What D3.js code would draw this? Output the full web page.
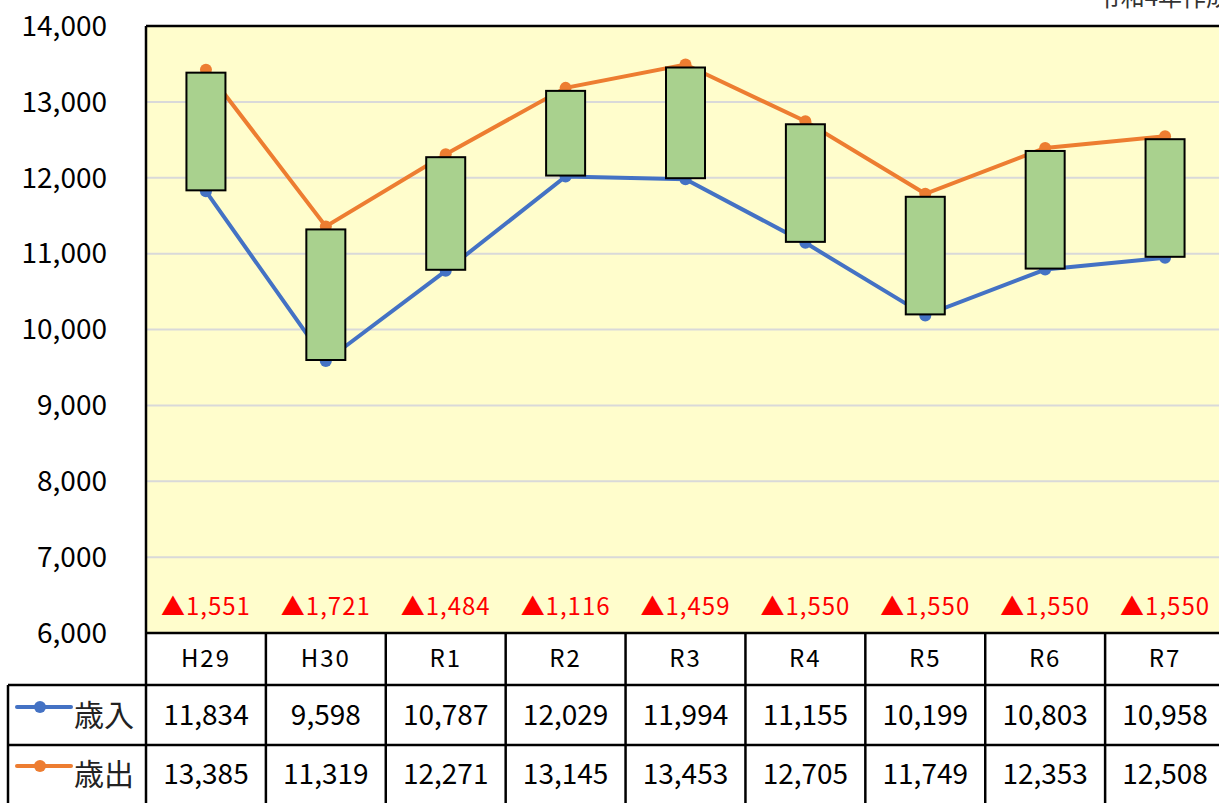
<!DOCTYPE html>
<html>
<head>
<meta charset="utf-8">
<script src="https://cdn.jsdelivr.net/npm/d3@7"></script>
<style>
  html, body { margin: 0; padding: 0; background: #fff; }
  svg { display: block; }
  text { font-family: "Noto Sans CJK JP", "Noto Sans", sans-serif; }
</style>
</head>
<body>
<svg id="chart" width="1219" height="803"></svg>
<script>
// data
const years = ['H29', 'H30', 'R1', 'R2', 'R3', 'R4', 'R5', 'R6', 'R7'];
const revenue = [11834, 9598, 10787, 12029, 11994, 11155, 10199, 10803, 10958];   // 歳入
const expense = [13385, 11319, 12271, 13145, 13453, 12705, 11749, 12353, 12508];  // 歳出
const gapLabels = ['▲1,551', '▲1,721', '▲1,484', '▲1,116', '▲1,459', '▲1,550', '▲1,550', '▲1,550', '▲1,550'];
const yTicks = [6000, 7000, 8000, 9000, 10000, 11000, 12000, 13000, 14000];
const seriesNames = ['歳入', '歳出'];

const W = 1219, H = 803;
const plot = { left: 146, top: 26, right: 1225, bottom: 633 };
const rowH = [52, 60, 58];   // header, 歳入, 歳出

const colors = { blue: '#4472C4', orange: '#ED7D31', box: '#A9D18E', bg: '#FFFDCC', grid: '#D9D9D9', red: '#FF0000' };

const svg = d3.select('#chart');

const x = d3.scaleBand().domain(years).range([plot.left, plot.right]);
const y = d3.scaleLinear().domain([6000, 14000]).range([plot.bottom, plot.top]);

// plot background
svg.append('rect')
  .attr('x', plot.left).attr('y', plot.top)
  .attr('width', plot.right - plot.left).attr('height', plot.bottom - plot.top)
  .attr('fill', colors.bg);

// gridlines
svg.append('g').selectAll('line')
  .data(yTicks.filter(d => d > 6000 && d < 14000))
  .join('line')
  .attr('x1', plot.left).attr('x2', plot.right)
  .attr('y1', d => y(d)).attr('y2', d => y(d))
  .attr('stroke', colors.grid).attr('stroke-width', 2);

// y axis labels
svg.append('g').selectAll('text')
  .data(yTicks)
  .join('text')
  .attr('x', 107).attr('y', d => y(d))
  .attr('dy', '0.35em')
  .attr('text-anchor', 'end')
  .attr('font-size', 28)
  .attr('fill', '#000')
  .text(d => d3.format(',')(d));

// lines + markers (drawn under the boxes)
const line = d3.line().x((d, i) => x(years[i]) + x.bandwidth() / 2).y(d => y(d));
const series = [
  { vals: revenue, color: colors.blue, shift: 1 },
  { vals: expense, color: colors.orange, shift: -3 }
];
series.forEach(s => {
  const g = svg.append('g').attr('transform', `translate(0,${s.shift})`);
  g.append('path').datum(s.vals)
    .attr('d', line).attr('fill', 'none')
    .attr('stroke', s.color).attr('stroke-width', 4);
  g.selectAll('circle').data(s.vals).join('circle')
    .attr('cx', (d, i) => x(years[i]) + x.bandwidth() / 2)
    .attr('cy', d => y(d))
    .attr('r', 6)
    .attr('fill', s.color);
});

// up-down boxes
const boxW = 39;
svg.append('g').selectAll('rect')
  .data(years)
  .join('rect')
  .attr('x', d => x(d) + x.bandwidth() / 2 - boxW / 2)
  .attr('width', boxW)
  .attr('y', (d, i) => y(Math.max(revenue[i], expense[i])))
  .attr('height', (d, i) => Math.abs(y(revenue[i]) - y(expense[i])))
  .attr('fill', colors.box)
  .attr('stroke', '#000').attr('stroke-width', 2);

// deficit labels
svg.append('g').selectAll('text')
  .data(gapLabels)
  .join('text')
  .attr('x', (d, i) => x(years[i]) + x.bandwidth() / 2)
  .attr('y', 615)
  .attr('text-anchor', 'middle')
  .attr('font-size', 24)
  .attr('letter-spacing', 1)
  .attr('fill', colors.red)
  .text(d => d);

// plot border (top)
svg.append('line').attr('x1', plot.left).attr('x2', plot.right).attr('y1', plot.top).attr('y2', plot.top)
  .attr('stroke', '#000').attr('stroke-width', 2.5);

// data table
const t0 = plot.bottom;
const t1 = t0 + rowH[0];
const t2 = t1 + rowH[1];
const t3 = t2 + rowH[2];
const tbl = svg.append('g');
const stroke = l => l.attr('stroke', '#000').attr('stroke-width', 2.5);

// horizontal lines
stroke(tbl.append('line').attr('x1', plot.left).attr('x2', W).attr('y1', t0).attr('y2', t0));
stroke(tbl.append('line').attr('x1', 8).attr('x2', W).attr('y1', t1).attr('y2', t1));
stroke(tbl.append('line').attr('x1', 8).attr('x2', W).attr('y1', t2).attr('y2', t2));
// vertical lines
stroke(tbl.append('line').attr('x1', 8).attr('x2', 8).attr('y1', t1).attr('y2', H));
stroke(tbl.append('line').attr('x1', plot.left).attr('x2', plot.left).attr('y1', plot.top).attr('y2', H));
tbl.selectAll('line.col').data(years.slice(1))
  .join('line').attr('class', 'col')
  .attr('x1', d => x(d)).attr('x2', d => x(d))
  .attr('y1', t0).attr('y2', H)
  .attr('stroke', '#000').attr('stroke-width', 2.5);

// category header
tbl.selectAll('text.cat').data(years)
  .join('text').attr('class', 'cat')
  .attr('x', d => x(d) + x.bandwidth() / 2)
  .attr('y', (t0 + t1) / 2).attr('dy', '0.35em')
  .attr('text-anchor', 'middle')
  .attr('font-size', 24)
  .attr('letter-spacing', 2)
  .text(d => d);

// value rows
[revenue, expense].forEach((vals, r) => {
  const top = r === 0 ? t1 : t2;
  const bot = r === 0 ? t2 : t3;
  tbl.selectAll(`text.v${r}`).data(vals)
    .join('text').attr('class', `v${r}`)
    .attr('x', (d, i) => x(years[i]) + x.bandwidth() / 2)
    .attr('y', (top + bot) / 2).attr('dy', '0.35em')
    .attr('text-anchor', 'middle')
    .attr('font-size', 28)
    .text(d => d3.format(',')(d));

  // legend key
  const cy = (top + bot) / 2 - 8;
  const c = r === 0 ? colors.blue : colors.orange;
  tbl.append('line').attr('x1', 17).attr('x2', 71).attr('y1', cy).attr('y2', cy)
    .attr('stroke', c).attr('stroke-width', 4).attr('stroke-linecap', 'round');
  tbl.append('circle').attr('cx', 40).attr('cy', cy).attr('r', 6).attr('fill', c);
  tbl.append('text').attr('x', 74).attr('y', (top + bot) / 2).attr('dy', '0.35em')
    .attr('font-size', 30).attr('fill', '#222').text(seriesNames[r]);
});

// note, clipped at the top edge as in the source
svg.append('text')
  .attr('x', 1230).attr('y', 6)
  .attr('text-anchor', 'end')
  .attr('font-size', 24)
  .attr('fill', '#333')
  .text('令和4年作成');
</script>
</body>
</html>
